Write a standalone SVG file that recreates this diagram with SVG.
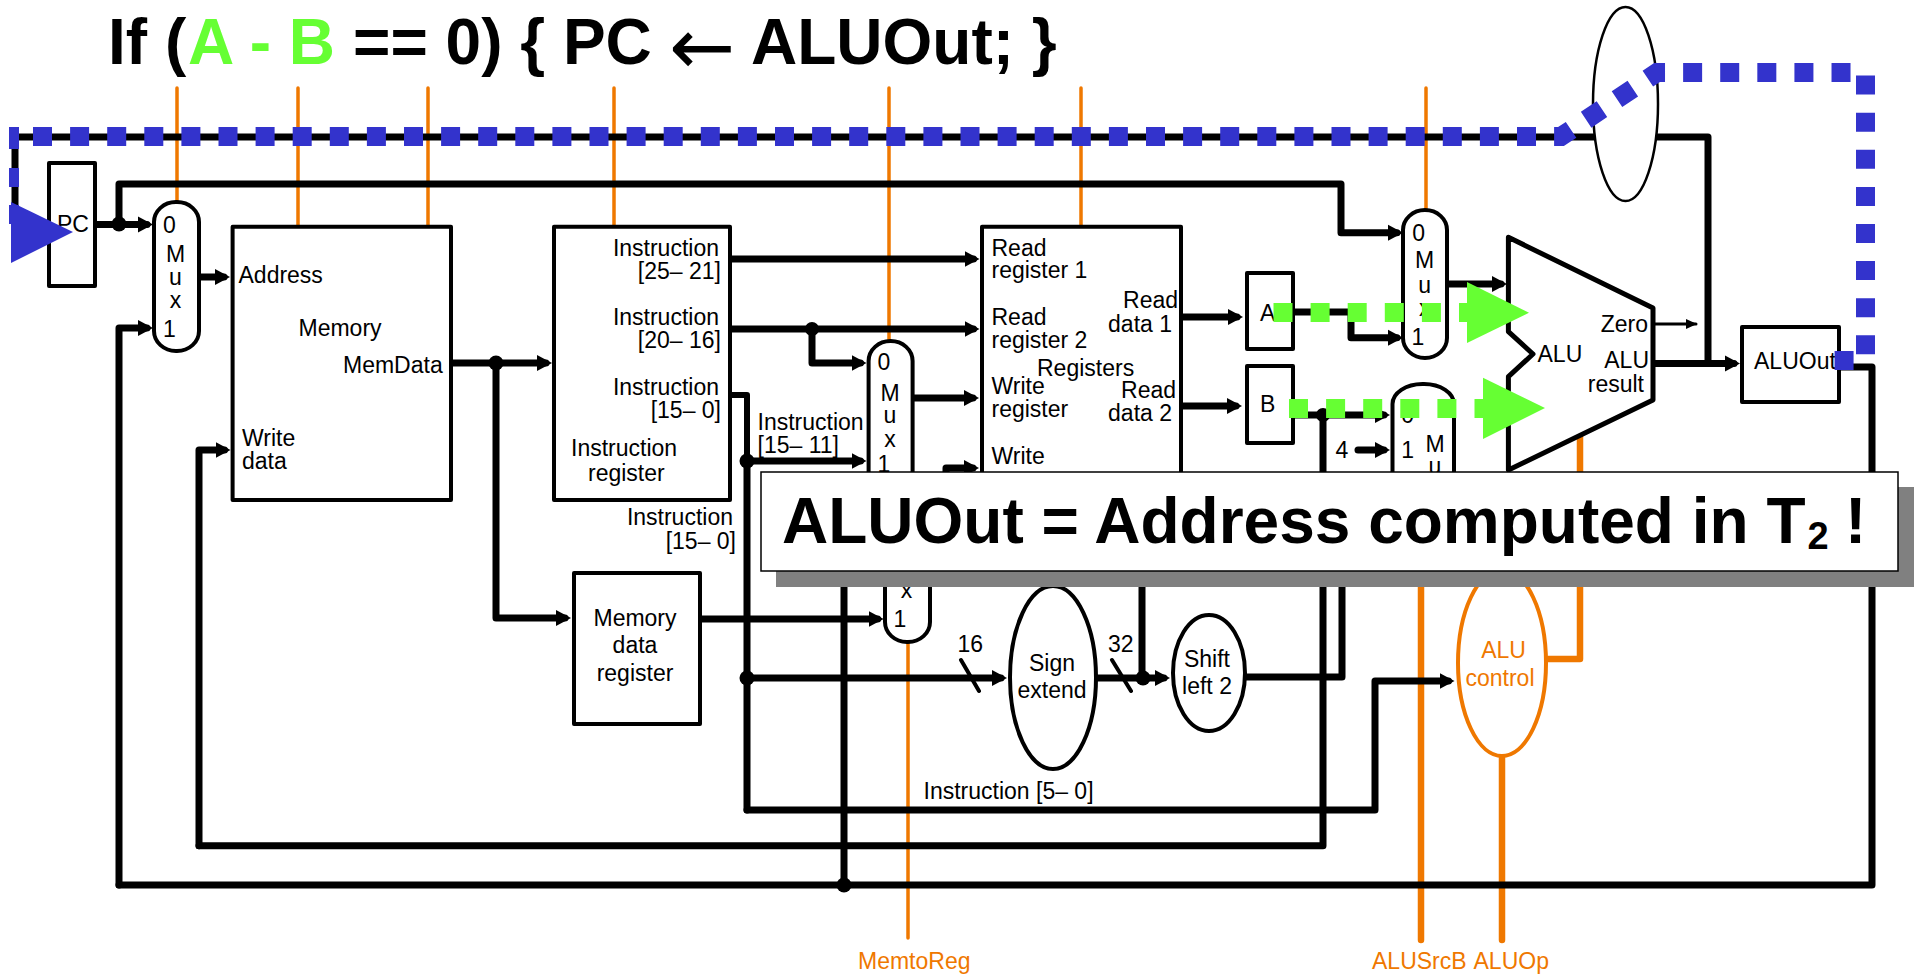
<svg xmlns="http://www.w3.org/2000/svg" width="1919" height="975" viewBox="0 0 1919 975">
<style>
text{font-family:"Liberation Sans",Arial,sans-serif;font-size:23px;fill:#000}
.e{text-anchor:end}.m{text-anchor:middle}
.o{fill:#EF7800}
.big{font-size:64px;font-weight:bold}
.box{fill:#fff;stroke:#000;stroke-width:4;stroke-linejoin:round}
.w{fill:none;stroke:#000;stroke-width:7;stroke-linejoin:round;stroke-linecap:round}
.a{marker-end:url(#ah)}
.oc{fill:none;stroke:#EF7800;stroke-width:3.5;stroke-linecap:round}
.oh{fill:none;stroke:#EF7800;stroke-width:6.5;stroke-linecap:round;stroke-linejoin:round}
.t{fill:none;stroke:#000;stroke-width:3;stroke-linecap:round}
.d{fill:#000}
</style>
<defs>
<marker id="ah" markerUnits="userSpaceOnUse" markerWidth="18" markerHeight="20" refX="9" refY="9" orient="auto"><path d="M0 1L15 9L0 17Z" fill="#000"/></marker>
<marker id="ahs" markerUnits="userSpaceOnUse" markerWidth="12" markerHeight="12" refX="10" refY="6" orient="auto"><path d="M0 1L11 6L0 11Z" fill="#000"/></marker>
</defs>
<g id="title"><text class="big" y="64"><tspan x="108">If (</tspan><tspan x="188" style="fill:#66FF33">A - B</tspan><tspan x="353">== 0) { PC</tspan></text>
<text x="669" y="74" style="font-family:'DejaVu Sans',sans-serif;font-size:79px">←</text>
<text class="big" x="751" y="64">ALUOut; }</text></g>
<g id="connectors">
<path class="oc" d="M177 88V202M298 88V227M428 88V227M614 88V227M889 88V341M1081 88V227M1426 88V210M908 642V938"/>
<path class="oh" d="M1421 500V940M1502 756V940M1580 430V659H1546"/>
<path class="w" d="M15 232V137H1708V363"/>
<path class="w" d="M15 232H47"/>
<path class="w a" d="M95 224.500H147"/>
<path class="w a" d="M119 224V184H1341V232.700H1397"/>
<path class="w a" d="M119 885V328H147"/>
<path class="w a" d="M199 277H224"/>
<path class="w a" d="M451 363H546"/>
<path class="w a" d="M496 363V618H565"/>
<path class="w" d="M1838 367H1872V885H119"/>
<path class="w a" d="M199 845.700V450H224.500"/>
<path class="w" d="M199 845.700H1323V415"/>
<path class="w a" d="M730 259H973.500"/>
<path class="w a" d="M730 329H973.500"/>
<path class="w a" d="M812 329V363H860.500"/>
<path class="w a" d="M913 398H973"/>
<path class="w a" d="M946 480V468H973"/>
<path class="w" style="stroke-width:6" d="M728 395H747V461"/>
<path class="w a" d="M747 461H860.500"/>
<path class="w" d="M747 461V810"/>
<path class="w a" d="M700 619H877.700"/>
<path class="w a" d="M747 678H1001"/>
<path class="w" d="M844 480V885"/>
<path class="w a" d="M1096 678H1164"/>
<path class="w" d="M1142 500V678"/>
<path class="w" d="M1245 677H1342V500"/>
<path class="w a" d="M747 810H1375V681H1448.500"/>
<path class="w a" d="M1181 317H1237"/>
<path class="w a" d="M1181 406H1236"/>
<path class="w a" d="M1293 312H1351V337.700H1397"/>
<path class="w a" d="M1293 415H1384"/>
<path class="w a" d="M1358 450H1384"/>
<path class="w a" d="M1447 284H1501"/>
<path class="w a" d="M1653 363.500H1734"/>
<path class="t" style="marker-end:url(#ahs)" d="M1653 324H1696"/>
<path class="t" style="stroke-width:4" d="M961 660L979 691M1112 660L1131 691"/>
<circle class="d" cx="119" cy="224" r="7.500"/><circle class="d" cx="496" cy="363" r="7.500"/><circle class="d" cx="812" cy="329" r="7"/><circle class="d" cx="747" cy="461" r="7.500"/><circle class="d" cx="747" cy="678" r="7.500"/><circle class="d" cx="1143" cy="678" r="7.500"/><circle class="d" cx="844" cy="885" r="7.500"/><circle class="d" cx="1323" cy="415" r="7"/>
</g>
<g id="pc"><rect class="box" x="49" y="163" width="46" height="123"/><text x="57" y="232">PC</text></g>
<g id="mux-pc"><rect class="box" x="154" y="202" width="45" height="149" rx="22" ry="20"/><text x="163" y="233">0</text><text class="m" x="175.500" y="262">M</text><text class="m" x="175.500" y="285">u</text><text class="m" x="175.500" y="308">x</text><text x="163" y="337">1</text></g>
<g id="memory"><rect class="box" x="232.600" y="226.700" width="218.400" height="273.300"/><text x="238.500" y="283">Address</text><text x="298.500" y="336">Memory</text><text x="343" y="373">MemData</text><text x="242" y="446">Write</text><text x="242" y="469">data</text></g>
<g id="instruction-register"><rect class="box" x="554" y="226.700" width="176" height="273.300"/>
<text class="e" x="719" y="256">Instruction</text><text class="e" x="721" y="279">[25– 21]</text><text class="e" x="719" y="325">Instruction</text><text class="e" x="721" y="348">[20– 16]</text><text class="e" x="719" y="395">Instruction</text><text class="e" x="721" y="418">[15– 0]</text><text x="571" y="456">Instruction</text><text x="588" y="481">register</text></g>
<g id="labels"><text class="e" x="733" y="525">Instruction</text><text class="e" x="736" y="549">[15– 0]</text><text x="757.500" y="430">Instruction</text><text x="757.500" y="453">[15– 11]</text><text x="923.500" y="799">Instruction [5– 0]</text><text x="957.500" y="652">16</text><text x="1108" y="652">32</text><text x="1342" y="457.700" class="m">4</text></g>
<g id="mdr"><rect class="box" x="574" y="573" width="126" height="151"/><text class="m" x="635" y="626">Memory</text><text class="m" x="635" y="653">data</text><text class="m" x="635" y="681">register</text></g>
<g id="mux-rd"><rect class="box" x="868.600" y="341" width="44" height="170" rx="22" ry="20"/><text class="m" x="884" y="370">0</text><text class="m" x="890" y="401">M</text><text class="m" x="890" y="423">u</text><text class="m" x="890" y="447">x</text><text class="m" x="884" y="472">1</text></g>
<g id="mux-mem"><rect class="box" x="885" y="530" width="45" height="112" rx="22" ry="20"/><text class="m" x="906.500" y="598">x</text><text class="m" x="900" y="627">1</text></g>
<g id="registers"><rect class="box" x="982" y="226.700" width="199" height="300"/><text x="991.500" y="256">Read</text><text x="991.500" y="278">register 1</text><text x="991.500" y="325">Read</text><text x="991.500" y="347.700">register 2</text><text x="1037" y="375.700">Registers</text><text x="991.500" y="394">Write</text><text x="991.500" y="417">register</text><text x="991.500" y="464">Write</text><text class="e" x="1178" y="308">Read</text><text class="e" x="1172" y="332">data 1</text><text class="e" x="1176" y="397.700">Read</text><text class="e" x="1172" y="420.700">data 2</text></g>
<g id="a"><rect class="box" x="1247" y="273" width="46" height="76"/><text x="1260" y="321">A</text></g>
<g id="b"><rect class="box" x="1247" y="366" width="46" height="77"/><text x="1260" y="411.700">B</text></g>
<g id="mux-a"><rect class="box" x="1403" y="210" width="44" height="148" rx="22" ry="20"/><text class="m" x="1418.600" y="240.700">0</text><text class="m" x="1424.700" y="268">M</text><text class="m" x="1424.700" y="292.700">u</text><text class="m" x="1424.700" y="316">x</text><text class="m" x="1418" y="345">1</text></g>
<g id="mux-b"><rect class="box" x="1392.500" y="384" width="61.500" height="130" rx="30" ry="20"/><text class="m" x="1407.600" y="422.700">0</text><text class="m" x="1407.600" y="457.700">1</text><text class="m" x="1435" y="451.700">M</text><text class="m" x="1435" y="474">u</text></g>
<g id="alu"><path class="box" style="stroke-width:5" d="M1508.400 237.300L1653 308V400L1508.400 470V376.700L1533 354L1508.400 331.700Z"/><text x="1537.500" y="361.700">ALU</text><text class="e" x="1648" y="331.700">Zero</text><text class="e" x="1649" y="368">ALU</text><text class="e" x="1644" y="391.700">result</text></g>
<g id="aluout"><rect class="box" x="1742" y="327" width="97" height="75"/><text x="1754" y="369">ALUOut</text></g>
<g id="sign-extend"><ellipse class="box" cx="1053" cy="677.500" rx="43" ry="91.500"/><text class="m" x="1052" y="671">Sign</text><text class="m" x="1052" y="698">extend</text></g>
<g id="shift-left"><ellipse class="box" cx="1209" cy="673" rx="36" ry="58"/><text class="m" x="1207" y="667">Shift</text><text class="m" x="1207" y="694">left 2</text></g>
<g id="alu-control"><ellipse cx="1502" cy="663" rx="44" ry="93" fill="#fff" stroke="#EF7800" stroke-width="4"/><text class="m o" x="1503.500" y="658">ALU</text><text class="m o" x="1500" y="685.700">control</text></g>
<g id="orange-labels"><text class="o" x="858" y="969">MemtoReg</text><text class="o" x="1372" y="969">ALUSrcB</text><text class="o" x="1473.500" y="969">ALUOp</text></g>
<g id="cut-ellipse"><ellipse cx="1625.500" cy="104" rx="32.500" ry="97" fill="#fff" stroke="#000" stroke-width="2.500"/></g>
<g id="path-highlight">
<path fill="none" stroke="#3333CC" stroke-width="19" stroke-dasharray="19 18.100" d="M33 136.500H1561L1657 72.500H1865.500V360.500H1833"/>
<path fill="none" stroke="#3333CC" stroke-width="10" d="M14 127V149M14 168V187M14 205V224"/>
<polygon fill="#3333CC" points="11,202 73,232 11,263"/>
<path fill="none" stroke="#66FF33" stroke-width="19" stroke-dasharray="19 18.100" d="M1273.500 312.500H1467"/>
<polygon fill="#66FF33" points="1467,282 1529,312.700 1467,343"/>
<path fill="none" stroke="#66FF33" stroke-width="19" stroke-dasharray="19 18.100" d="M1289 408.500H1483"/>
<polygon fill="#66FF33" points="1483,377.700 1545,408 1483,439"/>
</g>
<g id="callout"><rect x="776" y="487" width="1138" height="100" fill="#808080"/><rect x="761" y="472" width="1137" height="99" fill="#fff" stroke="#000" stroke-width="1.500"/>
<text class="big" x="782" y="543">ALUOut = Address computed in T</text><text class="big" x="1807.500" y="549" style="font-size:38px">2</text><text class="big" x="1845" y="543">!</text></g>
</svg>
